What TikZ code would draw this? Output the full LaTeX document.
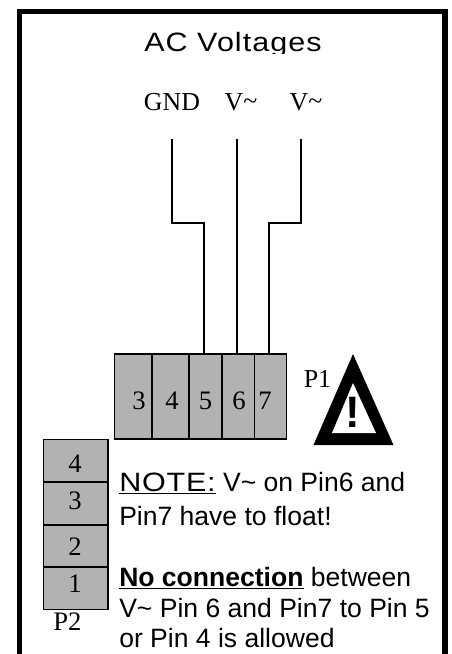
\documentclass[tikz,border=0pt]{standalone}
\usepackage{fontspec}
\setmainfont{Liberation Serif}
\setsansfont{Liberation Sans}
\newfontfamily\titlefont[LetterSpace=4,FakeStretch=1.15]{Liberation Sans}
\newfontfamily\spacedfont[LetterSpace=3,FakeStretch=1.15]{Liberation Sans}
\tikzset{
  frameline/.style={line width=3.9pt,draw=black},
  wire/.style={line width=1.05pt,draw=black},
  pinbox/.style={draw=black,line width=1.3pt,fill=black!30,minimum width=0pt,minimum height=0pt},
  pinlabel/.style={font=\fontsize{20}{20}\selectfont,anchor=base,inner sep=0pt},
  seriflabel/.style={font=\fontsize{19.4}{20}\selectfont,anchor=base,inner sep=0pt},
  notetext/.style={font=\sffamily\fontsize{19.9}{20}\selectfont,anchor=base west,inner sep=0pt,text depth=0pt},
}
\begin{document}
\begin{tikzpicture}[x=0.75pt,y=-0.75pt]
\useasboundingbox (0,0) rectangle (451,654);
\fill[white] (0,0) rectangle (451,654);
% frame
\begin{scope}
\clip (0,0) rectangle (451,654);
\draw[frameline] (19.5,670) -- (19.5,11.5) -- (445,11.5) -- (445,670);
\end{scope}
% title
\begin{scope}
\clip (100,20) rectangle (350,53);
\node[anchor=base,inner sep=0pt,font=\titlefont\fontsize{19.9}{20}\selectfont] (title) at (233,51) {AC Voltages};
\end{scope}
% wire labels
\node[seriflabel] (gnd) at (172,110.5) {GND};
\node[seriflabel] (v1) at (241,110.5) {V\raisebox{0.1ex}{\char`\~}};
\node[seriflabel] (v2) at (306,110.5) {V\raisebox{0.1ex}{\char`\~}};
\coordinate (w1) at (172,139);
\coordinate (w2) at (237,139);
\coordinate (w3) at (301,139);
% P1 block
\node[pinbox,minimum width=28.1pt,minimum height=63.75pt,anchor=north west] (p3) at (113.5,353) {};
\node[pinbox,minimum width=27.6pt,minimum height=63.75pt,anchor=north west] (p4) at (151.5,353) {};
\node[pinbox,minimum width=24.7pt,minimum height=63.75pt,anchor=north west] (p5) at (188.5,353) {};
\node[pinbox,minimum width=24pt,minimum height=63.75pt,anchor=north west] (p6) at (221.5,353) {};
\node[pinbox,minimum width=24pt,minimum height=63.75pt,anchor=north west] (p7) at (253.5,353) {};
\coordinate (t5) at (204,353);
\coordinate (t6) at (237,353);
\coordinate (t7) at (269,353);
\draw[wire] (w1) -- (172,223) -- (204,223) -- (t5);
\draw[wire] (w2) -- (t6);
\draw[wire] (w3) -- (301,223) -- (269,223) -- (t7);
\node[pinlabel] at (139,409) {3};
\node[pinlabel] at (172,409) {4};
\node[pinlabel] at (205.5,409) {5};
\node[pinlabel] at (239,409) {6};
\node[pinlabel] at (265,409) {7};
\node[seriflabel] (p1) at (317.5,387) {P1};
% warning triangle
\fill[black] (353,354) -- (393.5,445) -- (313.5,445) -- cycle;
\fill[white] (353,383) -- (376,433) -- (332,433) -- cycle;
\node[anchor=base,inner sep=0pt,font=\sffamily\bfseries\fontsize{33}{33}\selectfont] (bang) at (353,427) {!};
% P2 block
\node[pinbox,minimum width=48.5pt,minimum height=31.9pt,anchor=north west] (q4) at (42.5,438.5) {};
\node[pinbox,minimum width=48.5pt,minimum height=31.9pt,anchor=north west] (q3) at (42.5,481) {};
\node[pinbox,minimum width=48.5pt,minimum height=31.9pt,anchor=north west] (q2) at (42.5,524) {};
\node[pinbox,minimum width=48.5pt,minimum height=31.9pt,anchor=north west] (q1) at (42.5,566) {};
\node[pinlabel] at (75,472) {4};
\node[pinlabel] at (75,509) {3};
\node[pinlabel] at (75,555) {2};
\node[pinlabel] at (75,592) {1};
\node[pinlabel] (p2) at (67.5,630) {P2};
% note
\node[notetext] (n1) at (119,491) {\underline{{\spacedfont NOTE:}} V\char`\~{} on Pin6 and};
\node[notetext] (n2) at (119,525) {Pin7 have to float!};
\node[notetext] (n3) at (119,586) {\underline{\textbf{No connection}} between};
\node[notetext] (n4) at (119,617) {V\char`\~{} Pin 6 and Pin7 to Pin 5};
\node[notetext] (n5) at (119,647) {or Pin 4 is allowed};
\end{tikzpicture}
\end{document}
